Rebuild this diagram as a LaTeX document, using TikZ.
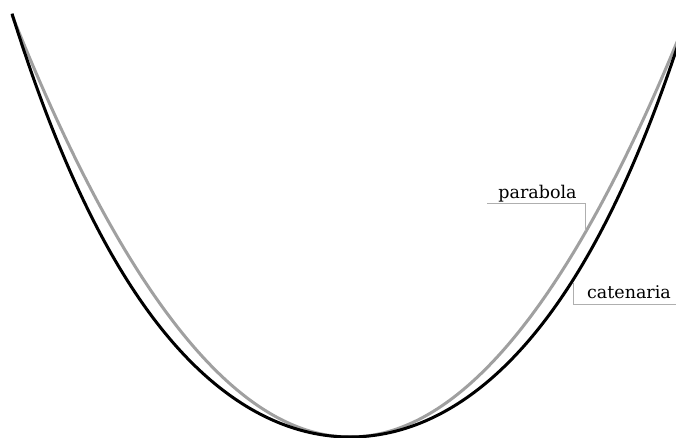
\documentclass[tikz,border=0pt]{standalone}
\usepackage{fontspec}
\setmainfont{DejaVu Serif}
\begin{document}
\begin{tikzpicture}[x=1pt,y=-1pt,
  catcurve/.style={black,line width=3pt},
  parcurve/.style={color={rgb,255:red,160;green,160;blue,160},line width=3pt},
  leader/.style={color={rgb,255:red,175;green,175;blue,175},line width=1pt},
  lbl/.style={font=\fontsize{17.5}{20}\selectfont,anchor=base,inner sep=0pt}]
\useasboundingbox (0,0) rectangle (676,437);
\clip (0,0) rectangle (676,437);
% parabola
\draw[parcurve] plot[domain=-338:338,samples=200,smooth] ({350+\x},{437-422*(\x/338)^2});
% catenary
\draw[catcurve] plot[domain=-338:338,samples=200,smooth] ({350+\x},{437-179.7*(cosh(\x/179.7)-1)});
% labels
\node[lbl] (par) at (537.5,198) {parabola};
\node[lbl] (cat) at (629,298) {catenaria};
\coordinate (pstart) at (487,203.5);
\coordinate (ppt) at (585,231);
\draw[leader] (pstart) -| (ppt);
\coordinate (cpt) at (573,283);
\coordinate (cend) at (676,304);
\draw[leader] (cpt) |- (cend);
\end{tikzpicture}
\end{document}
